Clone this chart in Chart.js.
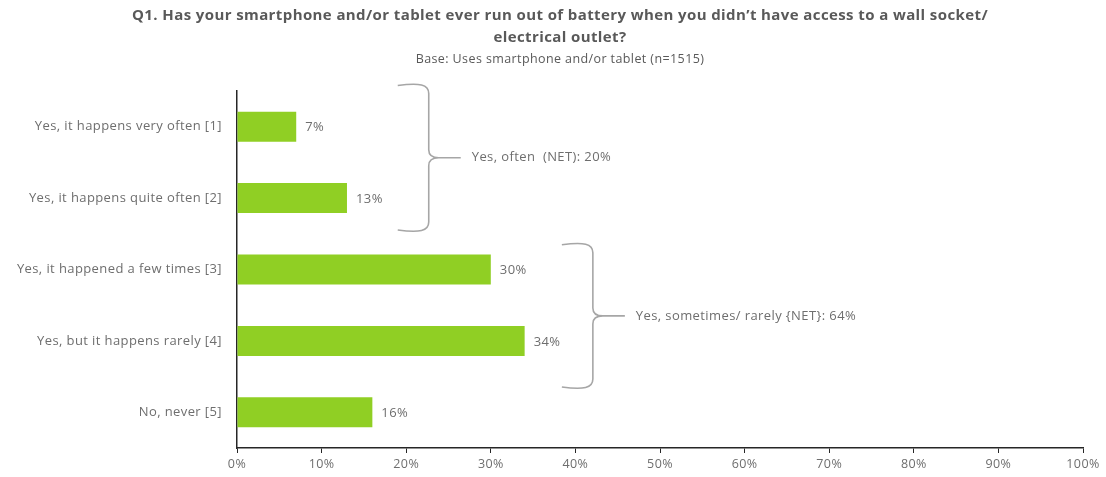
<!DOCTYPE html>
<html>
<head>
<meta charset="utf-8">
<script src="https://cdn.jsdelivr.net/npm/chart.js@4"></script>
<style>
  html, body { margin: 0; padding: 0; background: #fff; }
  #wrap { width: 1106px; height: 477px; }
</style>
</head>
<body>
<div id="wrap"><canvas id="chart"></canvas></div>
<script>
// Q1 battery survey: share of respondents per answer, plus NET brackets.
var titleLines = [
  "Q1. Has your smartphone and/or tablet ever run out of battery when you didn\u2019t have access to a wall socket/",
  "electrical outlet?"
];
var baseNote = "Base: Uses smartphone and/or tablet (n=1515)";

var categories = [
  "Yes, it happens very often [1]",
  "Yes, it happens quite often [2]",
  "Yes, it happened a few times [3]",
  "Yes, but it happens rarely [4]",
  "No, never [5]"
];
var shares = [7, 13, 30, 34, 16];
var xTicks = [0, 10, 20, 30, 40, 50, 60, 70, 80, 90, 100];

// NET groups: first/last category index, label and value
var netFrom = [0, 2];
var netTo = [1, 3];
var netLabels = ["Yes, often  (NET): ", "Yes, sometimes/ rarely {NET}: "];
var netValues = [20, 64];

var FONT = "'Open Sans', Lato, sans-serif";
var COL = {
  bar: "#90cf24",
  title: "#595959",
  text: "#6e6e6e",
  axis: "#262626",
  brace: "#a6a6a6"
};

// slightly loose tracking on all canvas text (measured and drawn alike)
var tracking = {
  id: "tracking",
  beforeLayout: function (chart) { chart.ctx.letterSpacing = "0.4px"; },
  beforeDraw: function (chart) { chart.ctx.letterSpacing = "0.4px"; }
};

// heading: question on two lines, base note below, centred over the whole chart
var heading = {
  id: "heading",
  afterDraw: function (chart, args, opts) {
    var ctx = chart.ctx;
    ctx.save();
    ctx.fillStyle = COL.title;
    ctx.textAlign = "center";
    ctx.textBaseline = "middle";
    ctx.font = "bold 15px " + FONT;
    titleLines.forEach(function (t, i) {
      ctx.fillText(t, opts.x, 16 + i * 22);
    });
    ctx.font = "12.5px " + FONT;
    ctx.fillText(baseNote, opts.x, 59);
    ctx.restore();
  }
};

// value labels just past the end of each bar
var valueLabels = {
  id: "valueLabels",
  afterDatasetsDraw: function (chart) {
    var ctx = chart.ctx;
    var meta = chart.getDatasetMeta(0);
    ctx.save();
    ctx.font = "13px " + FONT;
    ctx.fillStyle = COL.text;
    ctx.textAlign = "left";
    ctx.textBaseline = "middle";
    meta.data.forEach(function (bar, i) {
      ctx.fillText(shares[i] + "%", bar.x + 9, bar.y + 1);
    });
    ctx.restore();
  }
};

// curly brackets grouping the NET answers
var netBraces = {
  id: "netBraces",
  afterDraw: function (chart, args, opts) {
    var ctx = chart.ctx;
    var xs = chart.scales.x, ys = chart.scales.y;
    var step = ys.getPixelForValue(1) - ys.getPixelForValue(0);
    ctx.save();
    ctx.strokeStyle = COL.brace;
    ctx.lineWidth = 1.6;
    ctx.font = "13px " + FONT;
    ctx.fillStyle = COL.text;
    ctx.textBaseline = "middle";
    for (var g = 0; g < netFrom.length; g++) {
      var x0 = xs.getPixelForValue(opts.at[g]);
      var xv = x0 + 31;
      var xt = xv + 32;
      var y0 = ys.getPixelForValue(netFrom[g]) - step * opts.over[g][0];
      var y1 = ys.getPixelForValue(netTo[g]) + step * opts.over[g][1];
      var ym = (y0 + y1) / 2;
      ctx.beginPath();
      ctx.moveTo(x0, y0 + 1);
      ctx.bezierCurveTo(x0 + 22, y0 - 2, xv, y0, xv, y0 + 9);
      ctx.lineTo(xv, ym - 8);
      ctx.quadraticCurveTo(xv, ym, xv + 10, ym);
      ctx.lineTo(xt, ym);
      ctx.moveTo(xv + 10, ym);
      ctx.quadraticCurveTo(xv, ym, xv, ym + 8);
      ctx.lineTo(xv, y1 - 9);
      ctx.bezierCurveTo(xv, y1, x0 + 22, y1 + 2, x0, y1 - 1);
      ctx.stroke();
      ctx.fillText(netLabels[g] + netValues[g] + "%", xt + 11, ym);
    }
    ctx.restore();
  }
};

new Chart(document.getElementById("chart"), {
  type: "bar",
  data: {
    labels: categories,
    datasets: [{
      data: shares,
      backgroundColor: COL.bar,
      borderWidth: 0,
      barPercentage: 0.42,
      categoryPercentage: 1
    }]
  },
  options: {
    indexAxis: "y",
    responsive: true,
    maintainAspectRatio: false,
    animation: false,
    layout: { padding: { left: 0, right: 23, top: 91, bottom: 0 } },
    plugins: {
      legend: { display: false },
      tooltip: { enabled: false },
      heading: { x: 560 },
      // bracket x position (%) and how far it reaches past its first/last bar (in rows)
      netBraces: {
        at: [19, 38.4],
        over: [[0.59, 0.46], [0.36, 0.66]]
      }
    },
    scales: {
      x: {
        min: 0,
        max: 100,
        afterBuildTicks: function (s) {
          s.ticks = xTicks.map(function (v) { return { value: v }; });
        },
        afterFit: function (s) { s.height = 29; },
        grid: {
          drawOnChartArea: false,
          drawTicks: true,
          tickLength: 5,
          color: COL.axis
        },
        border: { display: true, color: COL.axis, width: 1.5 },
        ticks: {
          color: COL.text,
          font: { family: FONT, size: 12.5 },
          padding: 4,
          maxRotation: 0,
          callback: function (v) { return v + "%"; }
        }
      },
      y: {
        afterFit: function (s) { s.width = 237; },
        grid: { display: false, drawTicks: false },
        border: { display: true, color: COL.axis, width: 1.5 },
        ticks: {
          color: COL.text,
          font: { family: FONT, size: 13 },
          padding: 15
        }
      }
    }
  },
  plugins: [tracking, heading, valueLabels, netBraces]
});
</script>
</body>
</html>
